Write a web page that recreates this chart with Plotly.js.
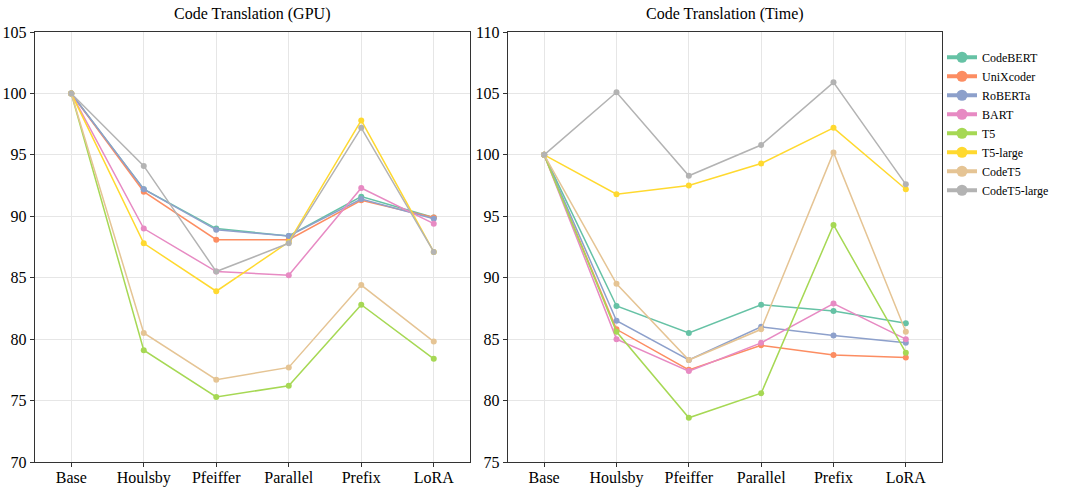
<!DOCTYPE html>
<html><head><meta charset="utf-8">
<script src="https://cdn.plot.ly/plotly-3.0.1.min.js"></script>
<style>html,body{margin:0;padding:0;background:#fff}</style>
</head><body>
<div id="chart" style="width:1065px;height:487px"></div>
<script>
const categories = ["Base","Houlsby","Pfeiffer","Parallel","Prefix","LoRA"];
const models = ["CodeBERT","UniXcoder","RoBERTa","BART","T5","T5-large","CodeT5","CodeT5-large"];
const colors = ["#66c2a5","#fc8d62","#8da0cb","#e78ac3","#a6d854","#ffd92f","#e5c494","#b3b3b3"];

const gpuCodeBERT   = [100, 92.2, 89.0, 88.4, 91.6, 89.9];
const gpuUniXcoder  = [100, 92.0, 88.1, 88.1, 91.3, 89.9];
const gpuRoBERTa    = [100, 92.2, 88.9, 88.4, 91.4, 89.8];
const gpuBART       = [100, 89.0, 85.5, 85.2, 92.3, 89.4];
const gpuT5         = [100, 79.1, 75.3, 76.2, 82.8, 78.4];
const gpuT5large    = [100, 87.8, 83.9, 87.9, 97.8, 87.1];
const gpuCodeT5     = [100, 80.5, 76.7, 77.7, 84.4, 79.8];
const gpuCodeT5large= [100, 94.1, 85.5, 87.8, 97.2, 87.1];

const timeCodeBERT   = [100, 87.7, 85.5, 87.8, 87.3, 86.3];
const timeUniXcoder  = [100, 85.8, 82.5, 84.5, 83.7, 83.5];
const timeRoBERTa    = [100, 86.5, 83.3, 86.0, 85.3, 84.7];
const timeBART       = [100, 85.0, 82.4, 84.7, 87.9, 85.0];
const timeT5         = [100, 85.6, 78.6, 80.6, 94.3, 83.9];
const timeT5large    = [100, 96.8, 97.5, 99.3, 102.2, 97.2];
const timeCodeT5     = [100, 89.5, 83.3, 85.8, 100.2, 85.6];
const timeCodeT5large= [100, 105.1, 98.3, 100.8, 105.9, 97.6];

const gpuSeries = [gpuCodeBERT,gpuUniXcoder,gpuRoBERTa,gpuBART,gpuT5,gpuT5large,gpuCodeT5,gpuCodeT5large];
const timeSeries = [timeCodeBERT,timeUniXcoder,timeRoBERTa,timeBART,timeT5,timeT5large,timeCodeT5,timeCodeT5large];

const traces = [];
models.forEach((m,i)=>{
  traces.push({x:categories,y:gpuSeries[i],type:"scatter",mode:"lines+markers",name:m,
    line:{color:colors[i],width:1.5},marker:{color:colors[i],size:6},showlegend:false,xaxis:"x",yaxis:"y"});
  traces.push({x:categories,y:timeSeries[i],type:"scatter",mode:"lines+markers",name:m,
    line:{color:colors[i],width:1.5},marker:{color:colors[i],size:6},showlegend:false,xaxis:"x2",yaxis:"y2"});
});
// legend-only entries
models.forEach((m,i)=>{
  traces.push({x:[null],y:[null],type:"scatter",mode:"lines+markers",name:m,
    line:{color:colors[i],width:4},marker:{color:colors[i],size:11},showlegend:true,xaxis:"x2",yaxis:"y2",hoverinfo:"skip"});
});

const font = {family:"Liberation Serif, Times New Roman, serif",color:"#000",size:16};
const axBase = {showline:true,linecolor:"#333",linewidth:1.3,mirror:true,ticks:"outside",ticklen:4,tickcolor:"#333",
  showgrid:true,gridcolor:"#e6e6e6",gridwidth:1,zeroline:false,tickfont:{size:16}};

const layout = {
  width:1065,height:487,
  margin:{l:35,r:123,t:32,b:25,autoexpand:false},
  paper_bgcolor:"#fff",plot_bgcolor:"#fff",
  font:font,
  showlegend:true,
  legend:{x:1.0,xanchor:"left",y:0.975,yanchor:"top",font:{size:12},tracegroupgap:0,itemwidth:30,bgcolor:"rgba(0,0,0,0)"},
  xaxis:Object.assign({},axBase,{domain:[0,0.4796],type:"category",range:[-0.5,5.5],ticklabelstandoff:-4}),
  yaxis:Object.assign({},axBase,{range:[70,105],dtick:5,tick0:70}),
  xaxis2:Object.assign({},axBase,{domain:[0.5215,1],type:"category",range:[-0.5,5.5],anchor:"y2",ticklabelstandoff:-4}),
  yaxis2:Object.assign({},axBase,{range:[75,110],dtick:5,tick0:75,anchor:"x2"}),
  annotations:[
    {text:"Code Translation (GPU)",xref:"x domain",yref:"paper",x:0.5,y:1,yshift:7,yanchor:"bottom",showarrow:false,font:{size:16}},
    {text:"Code Translation (Time)",xref:"x2 domain",yref:"paper",x:0.5,y:1,yshift:7,yanchor:"bottom",showarrow:false,font:{size:16}}
  ]
};
Plotly.newPlot("chart",traces,layout,{displayModeBar:false,staticPlot:true});
</script>
</body></html>
